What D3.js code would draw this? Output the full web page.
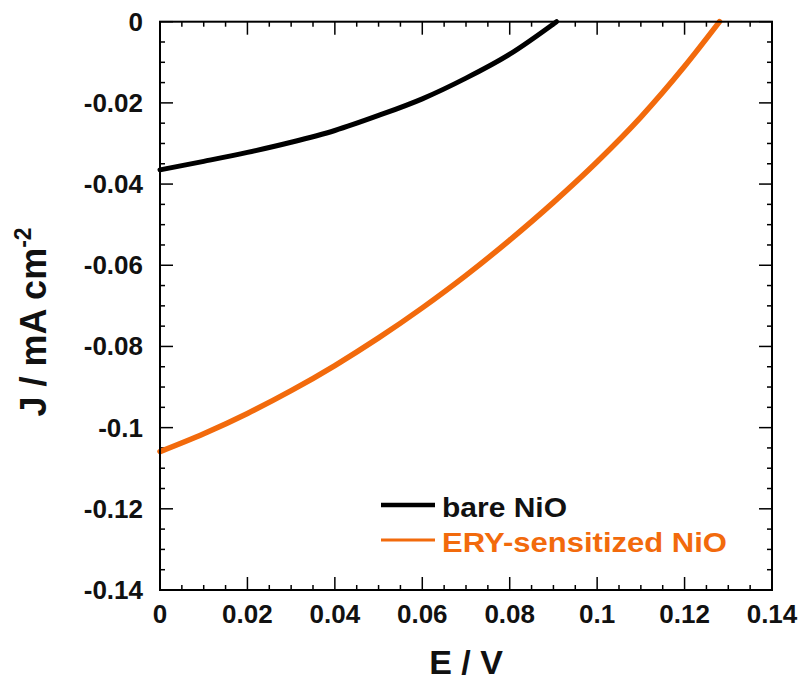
<!DOCTYPE html>
<html><head><meta charset="utf-8">
<script src="https://cdn.jsdelivr.net/npm/d3@7"></script>
<style>html,body{margin:0;padding:0;background:#fff;}svg{display:block;}</style>
</head><body>
<svg id="c" width="798" height="681"></svg>
<script>
const E_bare = [0, 0.01, 0.02, 0.03, 0.04, 0.05, 0.06, 0.07, 0.08, 0.0907];
const J_bare = [-0.0365, -0.0344, -0.0322, -0.0297, -0.0268, -0.0231, -0.0190, -0.0139, -0.0080, 0];
const E_ery = [0, 0.01, 0.02, 0.03, 0.04, 0.05, 0.06, 0.07, 0.08, 0.09, 0.10, 0.11, 0.12, 0.128];
const J_ery = [-0.1059, -0.1015, -0.0965, -0.0909, -0.0847, -0.0779, -0.0705, -0.0625, -0.0538, -0.0445, -0.0345, -0.0235, -0.0110, 0];
const xTicks = [0, 0.02, 0.04, 0.06, 0.08, 0.1, 0.12, 0.14];
const xTickLabels = ["0", "0.02", "0.04", "0.06", "0.08", "0.1", "0.12", "0.14"];
const yTicks = [0, -0.02, -0.04, -0.06, -0.08, -0.1, -0.12, -0.14];
const yTickLabels = ["0", "-0.02", "-0.04", "-0.06", "-0.08", "-0.1", "-0.12", "-0.14"];
const seriesNames = ["bare NiO", "ERY-sensitized NiO"];
const colors = ["#000000", "#f26a0c"];

const svg = d3.select("#c");
const L = 160, R = 772, T = 21.7, B = 590;
const x = d3.scaleLinear().domain([0, 0.14]).range([L, R]);
const y = d3.scaleLinear().domain([-0.14, 0]).range([B, T]);
const font = "'Liberation Sans', Arial, sans-serif";

const minorX = d3.range(0, 0.1401, 0.005).filter(v => Math.abs(v / 0.02 - Math.round(v / 0.02)) > 1e-6);
const minorY = d3.range(-0.14, 0.0001, 0.005).filter(v => Math.abs(v / 0.02 - Math.round(v / 0.02)) > 1e-6);

const ax = svg.append("g").attr("stroke", "#000").attr("stroke-width", 1.5);
function ticks(vals, len) {
  vals.forEach(v => {
    const px = x(v);
    ax.append("line").attr("x1", px).attr("x2", px).attr("y1", B).attr("y2", B - len);
    ax.append("line").attr("x1", px).attr("x2", px).attr("y1", T).attr("y2", T + len);
  });
}
function ticksY(vals, len) {
  vals.forEach(v => {
    const py = y(v);
    ax.append("line").attr("x1", L).attr("x2", L + len).attr("y1", py).attr("y2", py);
    ax.append("line").attr("x1", R).attr("x2", R - len).attr("y1", py).attr("y2", py);
  });
}
ticks(xTicks, 13); ticks(minorX, 5);
ticksY(yTicks, 13); ticksY(minorY, 5);

// curves
const line = d3.line().x(d => x(d[0])).y(d => y(d[1])).curve(d3.curveMonotoneX);
const bare = E_bare.map((e, i) => [e, J_bare[i]]);
const ery = E_ery.map((e, i) => [e, J_ery[i]]);
svg.append("path").attr("d", line(bare)).attr("fill", "none").attr("stroke", colors[0]).attr("stroke-width", 5).attr("stroke-linecap", "round");
svg.append("path").attr("d", line(ery)).attr("fill", "none").attr("stroke", colors[1]).attr("stroke-width", 5.5).attr("stroke-linecap", "round");

// frame
svg.append("rect").attr("x", L).attr("y", T).attr("width", R - L).attr("height", B - T)
  .attr("fill", "none").attr("stroke", "#000").attr("stroke-width", 2);

// tick labels
xTicks.forEach((v, i) => {
  svg.append("text").attr("x", x(v)).attr("y", 623).attr("text-anchor", "middle")
    .attr("font-family", font).attr("font-weight", "bold").attr("font-size", 26).attr("fill", "#111")
    .text(xTickLabels[i]);
});
yTicks.forEach((v, i) => {
  svg.append("text").attr("x", 143).attr("y", y(v) + 9).attr("text-anchor", "end")
    .attr("font-family", font).attr("font-weight", "bold").attr("font-size", 26).attr("fill", "#111")
    .text(yTickLabels[i]);
});

// axis titles
svg.append("text").attr("x", 466).attr("y", 674).attr("text-anchor", "middle")
  .attr("font-family", font).attr("font-weight", "bold").attr("font-size", 34).attr("fill", "#111")
  .text("E / V");
const yt = svg.append("text").attr("transform", "translate(46,322) rotate(-90)").attr("text-anchor", "middle")
  .attr("font-family", font).attr("font-weight", "bold").attr("font-size", 36).attr("fill", "#111");
yt.append("tspan").text("J / mA cm");
yt.append("tspan").attr("font-size", 23).attr("dy", -15).text("-2");

// legend
const leg = [{y: 505, ty: 517, w: 4.5, tl: 125}, {y: 540, ty: 552, w: 3, tl: 285}];
seriesNames.forEach((n, i) => {
  svg.append("line").attr("x1", 381).attr("x2", 435).attr("y1", leg[i].y).attr("y2", leg[i].y)
    .attr("stroke", colors[i]).attr("stroke-width", leg[i].w);
  svg.append("text").attr("x", 442).attr("y", leg[i].ty)
    .attr("font-family", font).attr("font-weight", "bold").attr("font-size", 27)
    .attr("fill", i === 0 ? "#111" : colors[1])
    .attr("textLength", leg[i].tl).attr("lengthAdjust", "spacingAndGlyphs")
    .text(n);
});
</script>
</body></html>
